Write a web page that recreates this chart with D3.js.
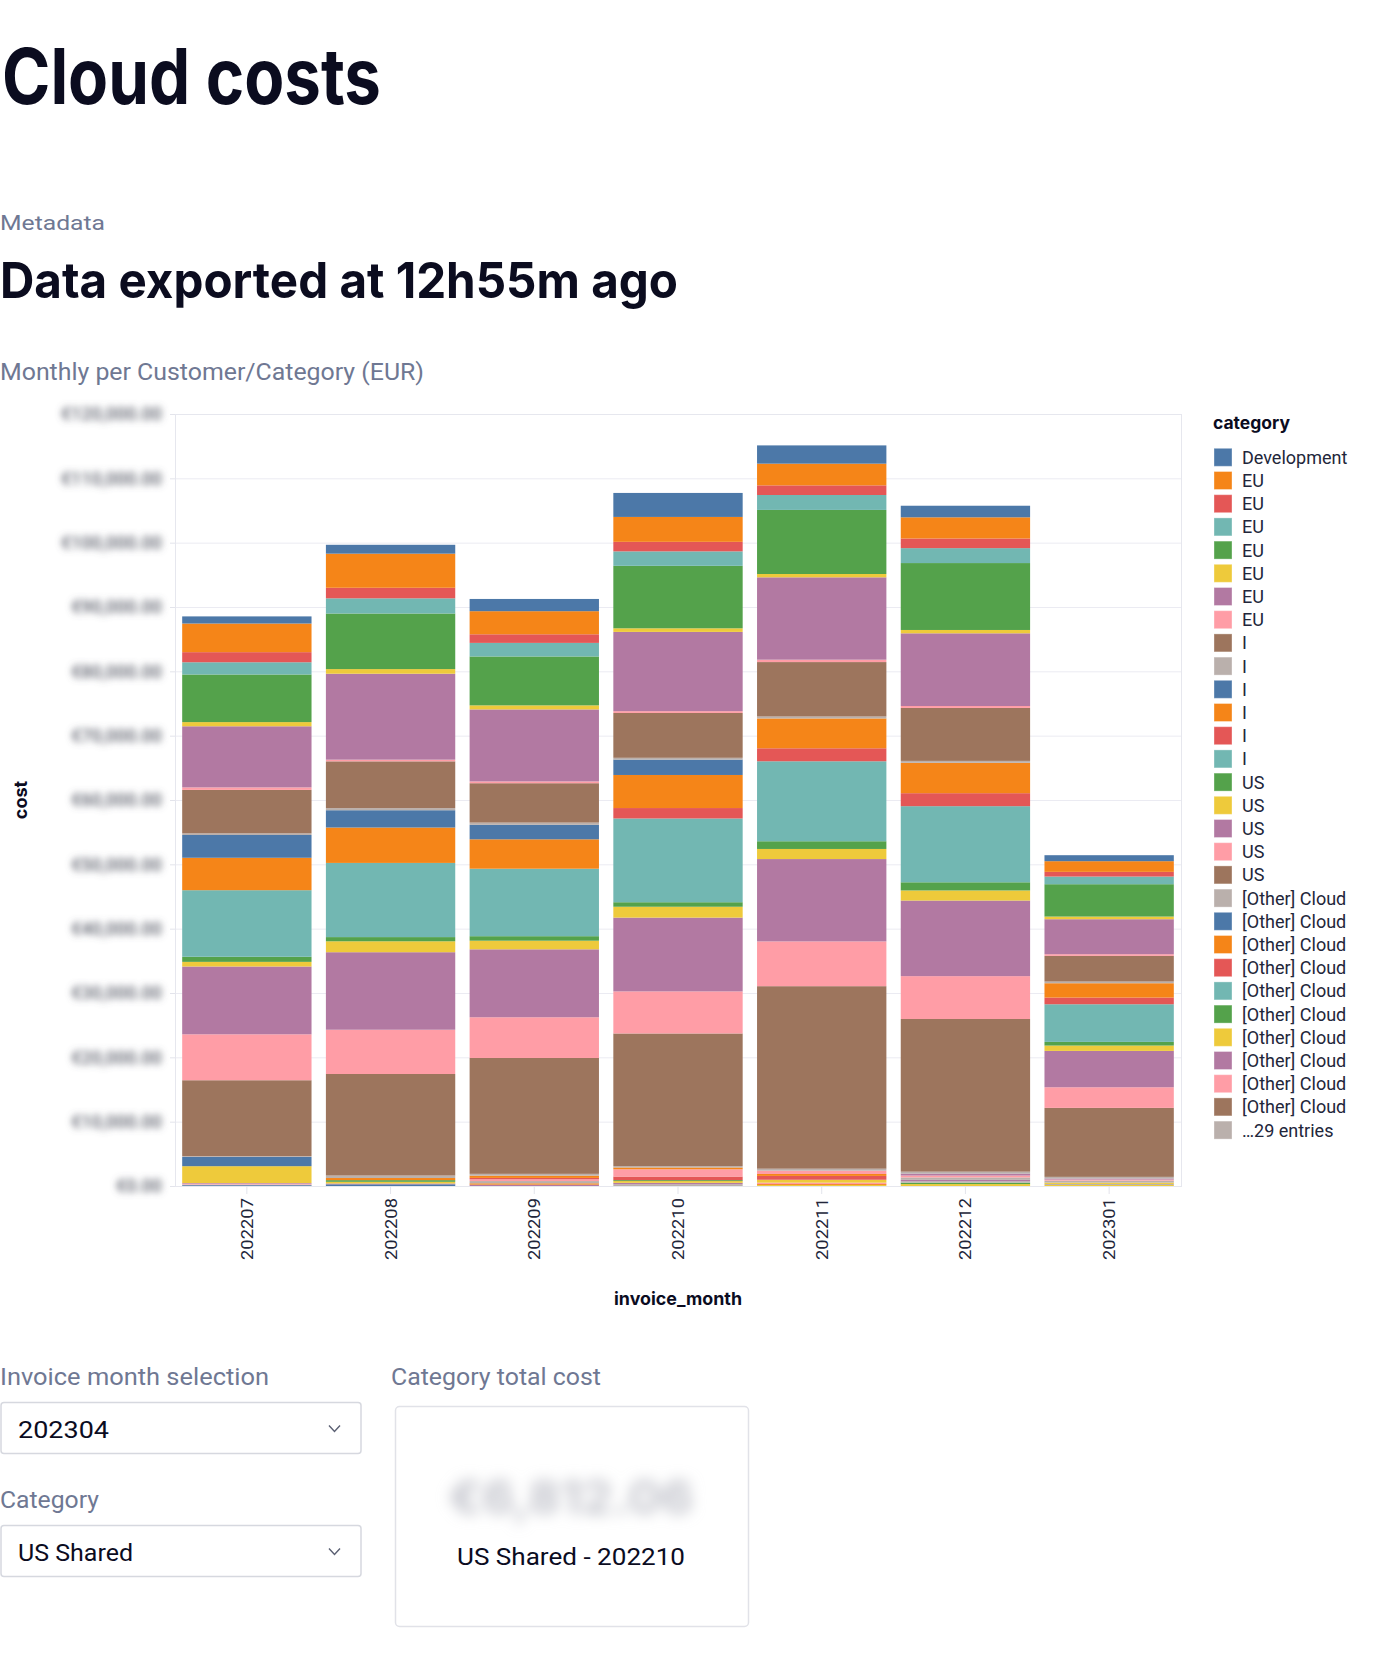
<!DOCTYPE html>
<html>
<head>
<meta charset="utf-8">
<script src="https://cdn.jsdelivr.net/npm/d3@7"></script>
<style>
  html, body { margin: 0; padding: 0; background: #fff; }
  svg { display: block; }
</style>
</head>
<body>
<svg id="page" width="1378" height="1674"></svg>
<script>
// ---------------- DATA ----------------
const months = ["202207", "202208", "202209", "202210", "202211", "202212", "202301"];

// legend labels (as displayed), in domain order; first is stacked on top
const categoryLabels = [
  "Development",
  "EU", "EU", "EU", "EU", "EU", "EU", "EU",
  "I", "I", "I", "I", "I", "I",
  "US", "US", "US", "US", "US",
  "[Other] Cloud", "[Other] Cloud", "[Other] Cloud", "[Other] Cloud", "[Other] Cloud",
  "[Other] Cloud", "[Other] Cloud", "[Other] Cloud", "[Other] Cloud", "[Other] Cloud"
];
const hiddenCount = 29;                 // "…29 entries"
const hiddenLabel = "\u202629 entries";

// cost per category, one row per category, one value per month (EUR)
const devCosts = [
  [1110, 1380, 1900, 3730, 2840, 1800, 930]
];
const euCosts = [
  [4450, 5300, 3590, 3870, 3370, 3290, 1660],
  [1570, 1640, 1340, 1480, 1500, 1500, 730],
  [1900, 2360, 2110, 2250, 2320, 2320, 1190],
  [7400, 8640, 7600, 9710, 9960, 10400, 5030],
  [650, 720, 630, 560, 520, 520, 410],
  [9500, 13360, 11190, 12320, 12800, 11300, 5440],
  [390, 260, 280, 280, 370, 300, 260]
];
const iCosts = [
  [6750, 7270, 6120, 6970, 8460, 8230, 3990],
  [260, 330, 350, 280, 300, 300, 260],
  [3540, 2690, 2250, 2390, 0, 0, 0],
  [5040, 5500, 4570, 5140, 4640, 4720, 2230],
  [0, 0, 0, 1620, 2020, 2020, 1040],
  [10350, 11530, 10490, 13020, 12430, 11830, 5850]
];
const usCosts = [
  [790, 650, 700, 700, 1200, 1270, 570],
  [720, 1700, 1340, 1690, 1570, 1570, 830],
  [10540, 12050, 10560, 11470, 12800, 11750, 5650],
  [7140, 6880, 6330, 6540, 6960, 6660, 3210],
  [11790, 15780, 18010, 20620, 28370, 23730, 10720]
];
const otherCosts = [
  [130, 390, 280, 210, 300, 300, 260],
  [1440, 0, 0, 0, 0, 0, 0],
  [0, 330, 350, 280, 0, 0, 0],
  [0, 0, 210, 0, 0, 0, 0],
  [0, 0, 0, 0, 0, 0, 0],
  [0, 260, 0, 0, 0, 0, 0],
  [2620, 260, 0, 0, 0, 0, 0],
  [100, 130, 0, 0, 0, 300, 160],
  [130, 0, 280, 1130, 520, 300, 160],
  [0, 0, 0, 0, 0, 0, 0]
];
const hiddenCosts = [
  [100, 0, 350, 0, 0, 370, 310],
  [130, 260, 0, 0, 0, 0, 0],
  [0, 0, 210, 0, 300, 0, 0],
  [0, 0, 0, 560, 600, 0, 0],
  [0, 0, 0, 0, 0, 0, 0],
  [0, 0, 0, 140, 0, 0, 0],
  [0, 0, 0, 280, 450, 0, 210],
  [0, 0, 210, 210, 0, 220, 0],
  [0, 0, 0, 0, 220, 0, 0],
  [0, 0, 0, 0, 0, 0, 0],
  [0, 0, 0, 280, 0, 220, 160],
  [0, 0, 0, 0, 0, 0, 0],
  [0, 0, 0, 0, 150, 0, 0],
  [0, 0, 0, 0, 0, 0, 0],
  [0, 0, 0, 0, 0, 0, 0],
  [0, 0, 0, 0, 0, 220, 0],
  [0, 0, 0, 0, 150, 300, 160],
  [0, 0, 0, 0, 0, 0, 0],
  [0, 0, 0, 0, 0, 0, 0],
  [0, 0, 0, 0, 0, 0, 0],
  [0, 0, 0, 0, 0, 0, 0],
  [0, 0, 0, 0, 0, 0, 0],
  [0, 0, 0, 0, 0, 0, 0],
  [0, 0, 0, 0, 0, 0, 0],
  [0, 0, 0, 0, 0, 0, 0],
  [0, 0, 0, 0, 0, 0, 0],
  [0, 0, 0, 0, 0, 0, 0],
  [0, 0, 0, 0, 0, 0, 0],
  [0, 0, 0, 0, 0, 0, 0]
];
const yTickValues = [0, 10000, 20000, 30000, 40000, 50000, 60000, 70000, 80000, 90000, 100000, 110000, 120000];
const palette = ["#4c78a8", "#f58518", "#e45756", "#72b7b2", "#54a24b", "#eeca3b", "#b279a2", "#ff9da6", "#9d755d", "#bab0ac"];

// ---------------- BUILD ----------------
const allRows = [...devCosts, ...euCosts, ...iCosts, ...usCosts, ...otherCosts, ...hiddenCosts];
const catIds = allRows.map((_, i) => "c" + i);
const table = months.map((m, mi) => {
  const o = { month: m };
  allRows.forEach((row, ci) => { o[catIds[ci]] = row[mi]; });
  return o;
});

const svg = d3.select("#page");
const defs = svg.append("defs");
function blur(id, sd) {
  defs.append("filter").attr("id", id)
    .attr("x", "-30%").attr("y", "-100%").attr("width", "160%").attr("height", "300%")
    .append("feGaussianBlur").attr("stdDeviation", sd);
}
blur("blurTick", 3.6);
blur("blurBig", 7);

const DARK = "#0b0c1f";
const GRAY = "#6f7893";
const TXT = "#22263a";
const SANS = "Roboto, 'Noto Sans', sans-serif";
const HEAD = "Inter, 'Noto Sans', sans-serif";

function txt(x, y, s, opts) {
  const t = svg.append("text").attr("x", x).attr("y", y).text(s)
    .attr("font-family", opts.family || SANS)
    .attr("font-size", opts.size)
    .attr("font-weight", opts.weight || 400)
    .attr("fill", opts.fill || DARK);
  if (opts.len) t.attr("textLength", opts.len).attr("lengthAdjust", "spacingAndGlyphs");
  if (opts.anchor) t.attr("text-anchor", opts.anchor);
  return t;
}

// headings
txt(2, 104, "Cloud costs", { family: HEAD, size: 77, weight: 700, len: 379 });
txt(0, 230, "Metadata", { size: 21, fill: GRAY, len: 105 });
txt(0, 298, "Data exported at 12h55m ago", { family: HEAD, size: 50, weight: 700, len: 678 });
txt(0, 380, "Monthly per Customer/Category (EUR)", { size: 24, fill: GRAY, len: 424 });

// ---------------- CHART ----------------
const plot = { left: 175, top: 414, right: 1181, bottom: 1186 };
const x = d3.scaleBand().domain(months).range([plot.left, plot.right]).paddingInner(0.1).paddingOuter(0.05);
const y = d3.scaleLinear().domain([0, 120000]).range([plot.bottom, plot.top]);
const color = d3.scaleOrdinal().domain(catIds).range(palette);

// grid
svg.append("g").selectAll("line").data(yTickValues).join("line")
  .attr("x1", plot.left).attr("x2", plot.right)
  .attr("y1", d => y(d) + 0.5).attr("y2", d => y(d) + 0.5)
  .attr("stroke", "#ebebf2").attr("stroke-width", 1);
svg.append("rect")
  .attr("x", plot.left + 0.5).attr("y", plot.top + 0.5)
  .attr("width", plot.right - plot.left).attr("height", plot.bottom - plot.top)
  .attr("fill", "none").attr("stroke", "#e6e7ee");

// stacked bars (first category on top)
const stack = d3.stack().keys(catIds.slice().reverse());
const series = stack(table);
svg.append("g").selectAll("g").data(series).join("g")
  .attr("fill", s => color(s.key))
  .selectAll("rect").data(s => s.filter(d => d[1] - d[0] > 0)).join("rect")
  .attr("x", d => x(d.data.month))
  .attr("width", x.bandwidth())
  .attr("y", d => y(d[1]))
  .attr("height", d => y(d[0]) - y(d[1]));

// y axis (blurred labels)
const yAxis = svg.append("g").attr("transform", `translate(${plot.left},0)`)
  .call(d3.axisLeft(y).tickValues(yTickValues).tickSize(5).tickPadding(8)
    .tickFormat(d => "\u20ac" + d3.format(",.2f")(d)));
yAxis.select(".domain").remove();
yAxis.selectAll(".tick line").attr("stroke", "#e3e4eb");
yAxis.selectAll(".tick text")
  .attr("font-family", SANS).attr("font-size", 18).attr("font-weight", 500).attr("fill", "#5d606c")
  .attr("filter", "url(#blurTick)");

// x axis
const xAxis = svg.append("g").attr("transform", `translate(0,${plot.bottom})`)
  .call(d3.axisBottom(x).tickSize(8).tickPadding(4));
xAxis.select(".domain").remove();
xAxis.selectAll(".tick line").attr("stroke", "#e3e4eb");
xAxis.selectAll(".tick text")
  .attr("transform", "rotate(-90)")
  .attr("x", -12).attr("y", 0).attr("dy", "0.35em")
  .attr("text-anchor", "end")
  .attr("font-family", SANS).attr("font-size", 17).attr("fill", TXT)
  .attr("textLength", 62).attr("lengthAdjust", "spacingAndGlyphs");

// axis titles
svg.append("text").attr("transform", "translate(21,800) rotate(-90)")
  .attr("text-anchor", "middle").attr("dy", "0.35em")
  .attr("font-family", HEAD).attr("font-size", 18).attr("font-weight", 700).attr("fill", DARK)
  .text("cost");
txt(678, 1305, "invoice_month", { family: HEAD, size: 18, weight: 700, anchor: "middle", len: 128 });

// legend
txt(1213, 429, "category", { family: HEAD, size: 17, weight: 700, len: 77 });
const legendItems = categoryLabels.map((l, i) => ({ label: l, key: catIds[i] }))
  .concat([{ label: hiddenLabel, key: catIds[categoryLabels.length] }]);
const lg = svg.append("g").selectAll("g").data(legendItems).join("g")
  .attr("transform", (d, i) => `translate(1214,${457.3 + i * 23.2})`);
lg.append("rect").attr("x", 0).attr("y", -9).attr("width", 18).attr("height", 18)
  .attr("fill", d => color(d.key)).attr("stroke", "#fff").attr("stroke-opacity", 0.35);
lg.append("text").attr("x", 28).attr("y", 0).attr("dy", "0.36em")
  .attr("font-family", SANS).attr("font-size", 18).attr("fill", TXT)
  .text(d => d.label);

// ---------------- WIDGETS ----------------
txt(0, 1385, "Invoice month selection", { size: 24, fill: GRAY, len: 269 });
txt(0, 1508, "Category", { size: 24, fill: GRAY, len: 99 });
txt(391, 1385, "Category total cost", { size: 24, fill: GRAY, len: 210 });

function dropdown(y0, label, lw) {
  svg.append("rect").attr("x", 1).attr("y", y0).attr("width", 360).attr("height", 51)
    .attr("rx", 3).attr("fill", "#fff").attr("stroke", "#d6d8df").attr("stroke-width", 1.5);
  txt(18, y0 + 35, label, { size: 24, fill: DARK, len: lw });
  const cy = y0 + 26;
  svg.append("polyline")
    .attr("points", `${329},${cy - 3} ${334.5},${cy + 3} ${340},${cy - 3}`)
    .attr("fill", "none").attr("stroke", "#5a5f72").attr("stroke-width", 1.4);
}
dropdown(1402.5, "202304", 91);
dropdown(1525.5, "US Shared", 115);

svg.append("rect").attr("x", 395.5).attr("y", 1406.5).attr("width", 353).attr("height", 220)
  .attr("rx", 4).attr("fill", "#fff").attr("stroke", "#e1e2e8").attr("stroke-width", 1.5);
txt(571, 1514, "\u20ac6,812.06", { family: HEAD, size: 46, weight: 700, fill: "#c3c4cc", anchor: "middle", len: 245 })
  .attr("filter", "url(#blurBig)");
txt(571, 1565, "US Shared - 202210", { size: 24, fill: DARK, anchor: "middle", len: 228 });
</script>
</body>
</html>
